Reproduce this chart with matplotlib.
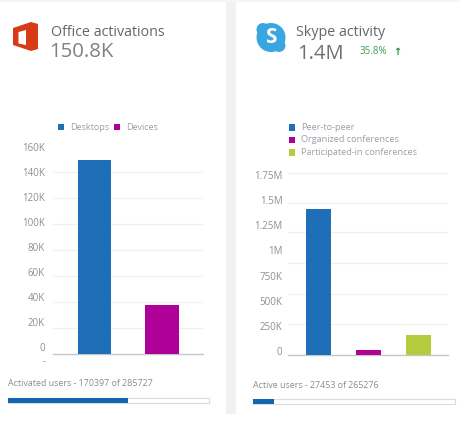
import matplotlib
matplotlib.use("Agg")
import matplotlib.pyplot as plt
from matplotlib.patches import Polygon, Circle, Rectangle

plt.rcParams['font.family'] = ['Open Sans', 'DejaVu Sans']

# --- data ---
office_categories = ["Desktops", "Devices"]
office_values = [149400, 33000]
office_ticks = [0, 20000, 40000, 60000, 80000, 100000, 120000, 140000, 160000]
office_labels = ["0", "20K", "40K", "60K", "80K", "100K", "120K", "140K", "160K"]
office_grid = [-5600, 15100, 35800, 56600, 77300, 98000, 118700, 139500, 160000]
office_total, office_active = 285727, 170397

skype_categories = ["Peer-to-peer", "Organized conferences", "Participated-in conferences"]
skype_values = [1410000, 10000, 158000]
skype_ticks = [0, 250000, 500000, 750000, 1000000, 1250000, 1500000, 1750000]
skype_labels = ["0", "250K", "500K", "750K", "1M", "1.25M", "1.5M", "1.75M"]
skype_grid = [-40000, 267000, 563000, 871000, 1178000, 1475000, 1772000]
skype_total, skype_active = 265276, 27453

BLUE, MAGENTA, GREEN = "#1f6fb8", "#b0009a", "#b5cc3e"
TXT, TICK = "#7a7a7a", "#8f8f8f"
W, H = 460, 423
fig = plt.figure(figsize=(W / 100, H / 100), dpi=100, facecolor="white")

def px_axes(x0, y0, x1, y1, **kw):
    return fig.add_axes([x0 / W, 1 - y1 / H, (x1 - x0) / W, (y1 - y0) / H], **kw)

# page overlay in pixel coordinates (gutter, icons, headings, legends)
bg = px_axes(0, 0, W, H, zorder=0)
bg.set_xlim(0, W); bg.set_ylim(H, 0); bg.axis("off")
bg.add_patch(Rectangle((226, 0), 10, 414, fc="#f1f1f1", ec="none"))
bg.add_patch(Rectangle((0, 0), W, 2, fc="#f6f6f6", ec="none"))

# Office icon
bg.add_patch(Polygon([(13, 28), (31, 22), (38, 24), (38, 49), (31, 51), (13, 45)], fc="#d83b17", ec="none"))
bg.add_patch(Polygon([(18.5, 32), (26, 30), (26, 45), (18.5, 43.5)], fc="white", ec="none"))
# Skype icon
bg.add_patch(Circle((271, 37.5), 14.5, fc="#38a6e0", ec="none"))
bg.add_patch(Circle((263, 29.5), 6.5, fc="#38a6e0", ec="none"))
bg.add_patch(Circle((279, 45.5), 6.5, fc="#38a6e0", ec="none"))
bg.text(271, 37.5, "S", color="white", fontsize=15, fontweight="bold", ha="center", va="center")

bg.text(51, 32, "Office activations", color="#666666", fontsize=10.3, va="center")
bg.text(49, 52, "150.8K", color="#808080", fontsize=14.7, va="center")
bg.text(296, 32, "Skype activity", color="#666666", fontsize=10.3, va="center")
bg.text(297, 54, "1.4M", color="#707070", fontsize=14.5, va="center")
bg.text(360, 52, "35.8%", color="#3c9a50", fontsize=7, va="center")
bg.text(397, 52, "\u2191", color="#2f8a45", fontsize=7, va="center", ha="center", fontweight="bold",
        family="DejaVu Sans")

# legends
for (x, tx, c, t) in [(58, 70, BLUE, office_categories[0]), (114, 126.5, MAGENTA, office_categories[1])]:
    bg.add_patch(Rectangle((x, 123.7), 6.5, 6.5, fc=c, ec="none"))
    bg.text(tx, 127, t, color="#9aa0a8", fontsize=6.5, va="center")
for (y, c, t) in zip([127.3, 140, 152.3], [BLUE, MAGENTA, GREEN], skype_categories):
    bg.add_patch(Rectangle((289, y - 3.2), 6.5, 6.5, fc=c, ec="none"))
    bg.text(301, y, t, color="#9aa0a8", fontsize=6.6, va="center")

def chart(box, values, colors, xs, xlim, ticks, labels, grid, ylim, pad):
    ax = px_axes(*box, zorder=2)
    ax.patch.set_alpha(0)
    base = ylim[0]
    ax.bar(xs, [v - base for v in values], bottom=base, width=1, color=colors, zorder=3)
    ax.set_xlim(*xlim); ax.set_ylim(*ylim)
    ax.set_xticks([])
    ax.set_yticks(ticks, labels, color=TICK, fontsize=7)
    ax.set_yticks(grid, minor=True)
    ax.grid(True, which="minor", axis="y", color="#eef0f2", lw=0.9, zorder=0)
    ax.tick_params(axis="y", which="both", length=0, pad=pad)
    for s in ("top", "left", "right"):
        ax.spines[s].set_visible(False)
    ax.spines["bottom"].set_color("#c4c6c8")
    ax.spines["bottom"].set_linewidth(1)
    return ax

# Office: labels and gridlines run on slightly different spacing in the source
ax1 = chart((53, 146.7, 203, 353.7), office_values, [BLUE, MAGENTA], [0, 2],
            (-1.23, 3.21), office_ticks, office_labels, office_grid, (-5600, 160000), 5.8)
ax1.text(-0.05, -0.012, "-", transform=ax1.transAxes, color=TICK, fontsize=7, ha="right", va="top")

ax2 = chart((288, 172.7, 448, 355), skype_values, [BLUE, MAGENTA, GREEN], [0, 2, 4],
            (-1.2, 5.2), skype_ticks, skype_labels, skype_grid, (-40000, 1772000), 4)

# footers and progress bars
bg.text(8, 384, f"Activated users - {office_active} of {office_total}", color="#8c8c8c", fontsize=6.4, va="center")
bg.text(253, 385.5, f"Active users - {skype_active} of {skype_total}", color="#8c8c8c", fontsize=6.4, va="center")

def progress(box, active, total):
    ax = px_axes(*box, zorder=2)
    ax.barh([0], [active], height=1, color="#1265ae", zorder=3)
    ax.set_xlim(0, total); ax.set_ylim(-0.5, 0.5)
    ax.set_xticks([]); ax.set_yticks([])
    for s in ax.spines.values():
        s.set_color("#d8dcdc"); s.set_linewidth(0.8)

progress((8, 397.7, 209, 403), office_active, office_total)
progress((253, 398.7, 455, 404), skype_active, skype_total)

fig.savefig("out.png", dpi=100)
